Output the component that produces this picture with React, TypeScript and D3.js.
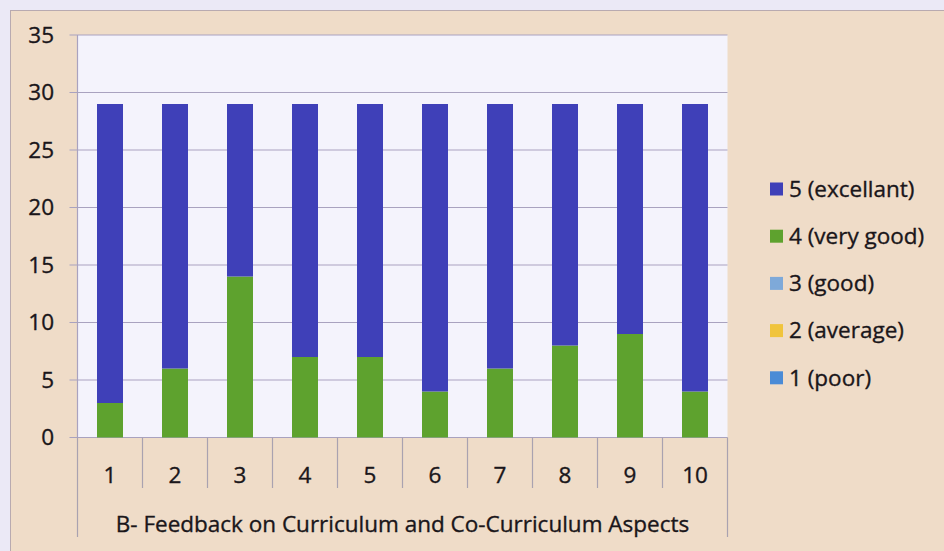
import * as d3 from "d3";

const categories = ["1", "2", "3", "4", "5", "6", "7", "8", "9", "10"];
const poor = [0, 0, 0, 0, 0, 0, 0, 0, 0, 0];
const average = [0, 0, 0, 0, 0, 0, 0, 0, 0, 0];
const good = [0, 0, 0, 0, 0, 0, 0, 0, 0, 0];
const veryGood = [3, 6, 14, 7, 7, 4, 6, 8, 9, 4];
const excellent = [26, 23, 15, 22, 22, 25, 23, 21, 20, 25];
const yTicks = [0, 5, 10, 15, 20, 25, 30, 35];
const axisTitle = "B- Feedback on Curriculum and Co-Curriculum Aspects";

const seriesKeys = ["poor", "average", "good", "veryGood", "excellent"];
const seriesLabels: Record<string, string> = {
  poor: "1 (poor)",
  average: "2 (average)",
  good: "3 (good)",
  veryGood: "4 (very good)",
  excellent: "5 (excellant)",
};
const colors: Record<string, string> = {
  poor: "#4a8bd6",
  average: "#f0c43c",
  good: "#7ea9d9",
  veryGood: "#5ea22e",
  excellent: "#3f40b8",
};

const W = 944;
const H = 551;
const font = "'Open Sans', Lato, sans-serif";
const ink = "#1a161a";
const fs = 22.5;

export default function App() {
  // plot area
  const left = 77.5;
  const right = 727.5;
  const top = 35;
  const bottom = 437.5;

  const rows = categories.map((c, i) => ({
    cat: c,
    poor: poor[i],
    average: average[i],
    good: good[i],
    veryGood: veryGood[i],
    excellent: excellent[i],
  }));

  const x = d3.scaleBand().domain(categories).range([left, right]).paddingInner(0.6).paddingOuter(0.3);
  const y = d3.scaleLinear().domain([0, 35]).range([bottom, top]);
  const stacked = d3.stack<any>().keys(seriesKeys)(rows);
  const step = x.step();
  const bandEdges = d3.range(categories.length + 1).map(i => left + i * step);

  const legendOrder = [...seriesKeys].reverse();
  const txt = { fontFamily: font, fontSize: fs, fill: ink, stroke: ink, strokeWidth: 0.35 };

  return (
    <svg width={W} height={H} style={{ position: "absolute", left: 0, top: 0 }}>
      <rect x={0} y={0} width={W} height={H} fill="#ebe9f6" />
      {/* chart area */}
      <rect x={10.5} y={10.5} width={W} height={H} fill="#efdcc8" stroke="#b8aab0" strokeWidth={1} />
      {/* plot area */}
      <rect x={left} y={top} width={right - left} height={bottom - top} fill="#f4f3fc" />
      {yTicks.map(t => (
        <g key={t}>
          <line x1={left - 8} x2={right} y1={y(t)} y2={y(t)} stroke="#a9a2bf" strokeWidth={1.2} />
          <text x={54} y={y(t)} dy="0.35em" textAnchor="end" {...txt}>
            {t}
          </text>
        </g>
      ))}
      <line x1={left} x2={left} y1={top} y2={bottom} stroke="#a9a2bf" strokeWidth={1.2} />
      {stacked.map(s => (
        <g key={s.key} fill={colors[s.key]}>
          {s.map((d, i) =>
            d[1] - d[0] > 0 ? (
              <rect key={i} x={x(categories[i])} width={x.bandwidth()} y={y(d[1])} height={y(d[0]) - y(d[1])} />
            ) : null
          )}
        </g>
      ))}
      {/* category axis */}
      {bandEdges.map((bx, i) => (
        <line
          key={i}
          x1={bx}
          x2={bx}
          y1={bottom}
          y2={i === 0 || i === categories.length ? 537 : 488}
          stroke="#a9a2b0"
          strokeWidth={1.2}
        />
      ))}
      {categories.map(c => (
        <text key={c} x={x(c)! + x.bandwidth() / 2} y={475} dy="0.35em" textAnchor="middle" {...txt}>
          {c}
        </text>
      ))}
      <text x={(left + right) / 2} y={524} dy="0.35em" textAnchor="middle" {...txt}>
        {axisTitle}
      </text>
      {/* legend */}
      {legendOrder.map((k, i) => (
        <g key={k} transform={`translate(770, ${189 + i * 47.2})`}>
          <rect x={0} y={-6.5} width={13} height={13} fill={colors[k]} />
          <text x={19} y={0} dy="0.35em" {...txt}>
            {seriesLabels[k]}
          </text>
        </g>
      ))}
    </svg>
  );
}
